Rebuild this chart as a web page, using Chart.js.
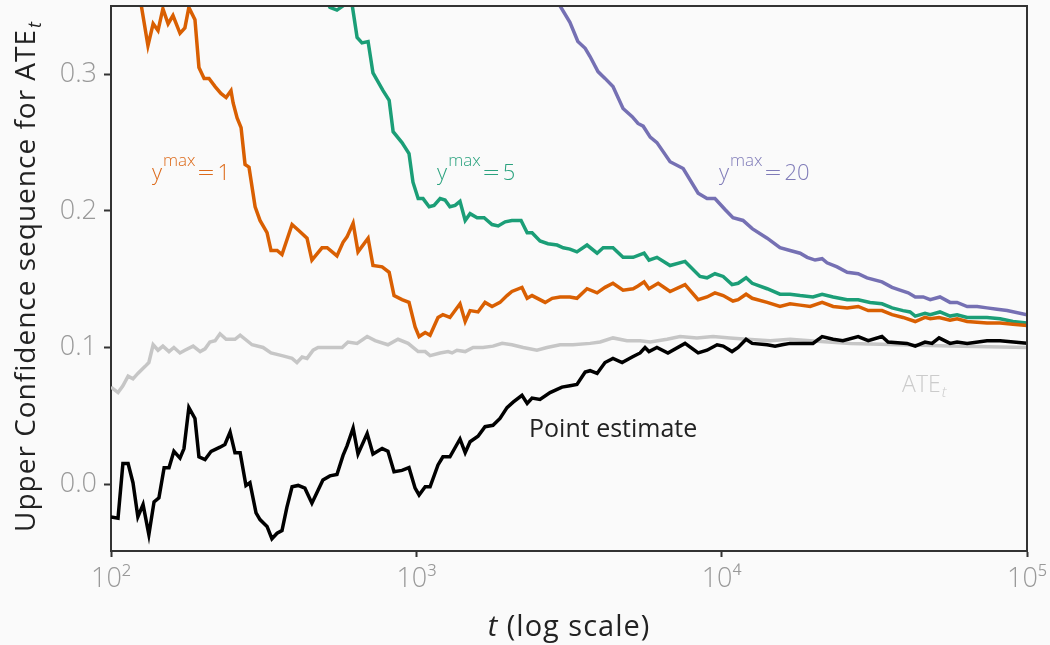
<!DOCTYPE html>
<html>
<head>
<meta charset="utf-8">
<script src="https://cdn.jsdelivr.net/npm/chart.js@4.4.1/dist/chart.umd.min.js"></script>
<style>
html,body{margin:0;padding:0;background:#fafafa;}
#wrap{width:1050px;height:645px;position:relative;}
canvas{display:block;}
</style>
</head>
<body>
<div id="wrap"><canvas id="c" width="1050" height="645"></canvas></div>
<script>
// ---- Data (x given as log10(t)) ----
const orangeLogT = [2.000,2.049,2.092,2.121,2.138,2.154,2.170,2.187,2.203,2.226,2.242,2.255,2.275,2.288,2.305,2.321,2.341,2.360,2.377,2.393,2.400,2.413,2.426,2.439,2.452,2.472,2.488,2.511,2.524,2.544,2.560,2.593,2.613,2.642,2.658,2.691,2.708,2.740,2.760,2.773,2.793,2.809,2.842,2.858,2.888,2.911,2.927,2.953,2.976,2.996,3.009,3.029,3.045,3.071,3.087,3.110,3.143,3.160,3.176,3.202,3.225,3.248,3.274,3.297,3.313,3.346,3.363,3.379,3.422,3.445,3.471,3.503,3.526,3.559,3.592,3.618,3.644,3.677,3.710,3.726,3.746,3.762,3.792,3.831,3.880,3.923,3.952,3.978,4.005,4.037,4.054,4.080,4.100,4.149,4.191,4.224,4.257,4.290,4.329,4.365,4.411,4.447,4.480,4.525,4.558,4.594,4.634,4.666,4.683,4.712,4.748,4.771,4.804,4.869,4.912,4.954,5.000];
const orangeVal = [0.45,0.39,0.36,0.321,0.337,0.332,0.348,0.337,0.343,0.330,0.334,0.349,0.340,0.305,0.297,0.297,0.291,0.286,0.283,0.288,0.279,0.268,0.261,0.234,0.232,0.203,0.193,0.184,0.171,0.171,0.168,0.190,0.186,0.180,0.164,0.173,0.173,0.167,0.177,0.181,0.191,0.170,0.180,0.160,0.159,0.155,0.138,0.135,0.133,0.115,0.108,0.111,0.109,0.122,0.124,0.122,0.132,0.119,0.127,0.126,0.133,0.130,0.133,0.138,0.141,0.144,0.136,0.138,0.133,0.136,0.137,0.137,0.136,0.143,0.140,0.144,0.147,0.142,0.143,0.145,0.148,0.143,0.147,0.141,0.146,0.135,0.137,0.140,0.138,0.134,0.135,0.139,0.136,0.133,0.130,0.132,0.131,0.130,0.133,0.130,0.129,0.130,0.127,0.127,0.124,0.122,0.119,0.122,0.121,0.122,0.120,0.121,0.119,0.118,0.118,0.117,0.116];

const greenLogT = [2.000,2.300,2.600,2.717,2.740,2.766,2.789,2.806,2.822,2.842,2.858,2.891,2.911,2.924,2.953,2.976,2.989,3.006,3.022,3.042,3.058,3.078,3.094,3.110,3.127,3.143,3.160,3.176,3.199,3.222,3.248,3.268,3.291,3.313,3.343,3.363,3.379,3.405,3.431,3.461,3.481,3.503,3.526,3.559,3.592,3.612,3.644,3.677,3.710,3.746,3.762,3.788,3.831,3.880,3.929,3.952,3.978,4.005,4.034,4.054,4.080,4.100,4.149,4.191,4.224,4.257,4.299,4.329,4.365,4.411,4.447,4.486,4.525,4.558,4.594,4.617,4.634,4.666,4.683,4.715,4.748,4.771,4.804,4.869,4.912,4.954,5.000];
const greenVal = [0.75,0.52,0.40,0.349,0.347,0.351,0.352,0.327,0.323,0.324,0.301,0.288,0.281,0.258,0.250,0.242,0.221,0.209,0.209,0.203,0.204,0.209,0.208,0.203,0.204,0.207,0.193,0.198,0.195,0.195,0.190,0.189,0.192,0.193,0.193,0.184,0.184,0.178,0.176,0.175,0.173,0.172,0.170,0.175,0.169,0.173,0.173,0.166,0.166,0.169,0.164,0.166,0.160,0.163,0.152,0.151,0.154,0.152,0.146,0.147,0.151,0.147,0.143,0.139,0.139,0.138,0.137,0.139,0.137,0.135,0.135,0.133,0.132,0.129,0.127,0.126,0.123,0.125,0.124,0.126,0.123,0.124,0.122,0.122,0.121,0.119,0.118];

const purpleLogT = [2.000,2.300,2.600,2.900,3.100,3.300,3.420,3.471,3.503,3.529,3.553,3.569,3.595,3.618,3.644,3.677,3.707,3.726,3.743,3.766,3.788,3.831,3.874,3.923,3.952,3.978,4.011,4.037,4.070,4.100,4.149,4.191,4.224,4.257,4.280,4.306,4.329,4.345,4.378,4.411,4.447,4.476,4.525,4.558,4.584,4.611,4.634,4.660,4.683,4.715,4.748,4.771,4.804,4.837,4.869,4.902,4.935,5.000];
const purpleVal = [1.60,1.00,0.68,0.50,0.43,0.38,0.36,0.350,0.338,0.324,0.319,0.313,0.302,0.297,0.291,0.275,0.269,0.264,0.262,0.254,0.250,0.236,0.231,0.213,0.209,0.209,0.201,0.195,0.193,0.187,0.180,0.173,0.171,0.169,0.166,0.164,0.165,0.162,0.159,0.155,0.154,0.151,0.148,0.144,0.142,0.140,0.137,0.137,0.135,0.137,0.133,0.133,0.130,0.130,0.129,0.128,0.127,0.124];

const pointLogT = [2.000,2.023,2.039,2.056,2.072,2.088,2.105,2.124,2.141,2.157,2.174,2.190,2.206,2.226,2.239,2.255,2.275,2.288,2.308,2.328,2.357,2.373,2.390,2.406,2.423,2.442,2.455,2.475,2.488,2.511,2.527,2.544,2.560,2.576,2.593,2.613,2.635,2.658,2.675,2.694,2.717,2.740,2.760,2.773,2.793,2.809,2.839,2.858,2.888,2.907,2.927,2.953,2.976,2.996,3.009,3.029,3.045,3.071,3.087,3.110,3.143,3.160,3.176,3.202,3.225,3.251,3.274,3.297,3.317,3.346,3.363,3.379,3.405,3.438,3.477,3.503,3.526,3.553,3.569,3.592,3.618,3.644,3.674,3.707,3.733,3.749,3.762,3.788,3.824,3.880,3.923,3.952,3.985,4.005,4.034,4.054,4.080,4.100,4.149,4.175,4.198,4.224,4.257,4.299,4.329,4.365,4.397,4.447,4.480,4.525,4.545,4.607,4.634,4.666,4.689,4.712,4.748,4.771,4.804,4.869,4.912,5.000];
const pointVal = [-0.024,-0.025,0.015,0.015,0.001,-0.024,-0.015,-0.037,-0.013,-0.010,0.012,0.012,0.024,0.019,0.026,0.056,0.048,0.020,0.018,0.024,0.027,0.029,0.038,0.023,0.023,-0.001,0.001,-0.021,-0.026,-0.031,-0.040,-0.036,-0.034,-0.017,-0.002,-0.001,-0.003,-0.014,-0.006,0.003,0.006,0.007,0.021,0.028,0.041,0.022,0.037,0.022,0.026,0.024,0.009,0.010,0.012,-0.003,-0.008,-0.002,-0.002,0.014,0.020,0.020,0.033,0.023,0.031,0.035,0.042,0.043,0.048,0.056,0.060,0.065,0.059,0.063,0.062,0.067,0.071,0.072,0.073,0.082,0.083,0.081,0.089,0.092,0.089,0.093,0.096,0.100,0.097,0.100,0.096,0.103,0.096,0.098,0.102,0.101,0.097,0.100,0.106,0.103,0.102,0.101,0.102,0.103,0.103,0.103,0.108,0.106,0.105,0.108,0.105,0.108,0.104,0.103,0.101,0.104,0.103,0.107,0.103,0.104,0.103,0.105,0.105,0.103];

const ateLogT = [2.000,2.023,2.039,2.056,2.072,2.088,2.111,2.124,2.138,2.154,2.170,2.190,2.206,2.226,2.242,2.269,2.292,2.308,2.324,2.341,2.357,2.377,2.406,2.423,2.462,2.498,2.524,2.560,2.593,2.609,2.626,2.642,2.662,2.678,2.717,2.757,2.776,2.806,2.839,2.865,2.907,2.940,2.973,3.006,3.029,3.045,3.078,3.104,3.117,3.133,3.160,3.186,3.218,3.251,3.281,3.313,3.350,3.395,3.428,3.471,3.513,3.569,3.602,3.644,3.690,3.733,3.766,3.821,3.864,3.919,3.972,4.027,4.083,4.159,4.224,4.290,4.421,4.584,4.748,5.000];
const ateVal = [0.071,0.067,0.072,0.079,0.077,0.081,0.086,0.089,0.102,0.098,0.101,0.097,0.100,0.096,0.098,0.101,0.097,0.099,0.104,0.105,0.110,0.106,0.106,0.109,0.102,0.100,0.096,0.094,0.092,0.089,0.093,0.092,0.098,0.100,0.100,0.100,0.104,0.103,0.108,0.105,0.102,0.106,0.103,0.097,0.097,0.094,0.096,0.097,0.096,0.098,0.097,0.100,0.100,0.101,0.103,0.102,0.100,0.098,0.100,0.102,0.102,0.103,0.104,0.107,0.105,0.105,0.104,0.106,0.108,0.107,0.108,0.107,0.106,0.105,0.106,0.105,0.103,0.102,0.101,0.100];

const xTickValues = [100, 1000, 10000, 100000];
const xTickLabels = ['10\u00B2', '10\u00B3', '10\u2074', '10\u2075'];
const yTickValues = [0, 0.1, 0.2, 0.3];
const yTickLabels = ['0.0', '0.1', '0.2', '0.3'];

const seriesNames = ['Point estimate', 'ATE', 'y^max = 1', 'y^max = 5', 'y^max = 20'];
const yMaxValues = ['1', '5', '20'];

// ---- Styles ----
const COL = {orange:'#D95F02', green:'#1B9E77', purple:'#7570B3', black:'#000000', gray:'#C6C6C6', axis:'#333333', tick:'#999999', text:'#222222'};
const FONT = '"Open Sans", "Noto Sans", sans-serif';

const toPts = (lt, v) => lt.map((e, i) => ({x: Math.pow(10, e), y: v[i]}));

// label anchors in data space (log10 t, value)
const labelAnchors = {
  y1: [2.134, 0.2225], y5: [3.068, 0.2225], y20: [3.991, 0.2225],
  point: [3.369, 0.0344], ate: [4.591, 0.0673]
};

function drawYmax(ctx, px, py, val, color) {
  ctx.fillStyle = color;
  ctx.textAlign = 'left';
  ctx.textBaseline = 'alphabetic';
  ctx.font = '300 22px ' + FONT;
  ctx.fillText('y', px, py);
  let x = px + ctx.measureText('y').width + 1;
  ctx.font = '300 17px ' + FONT;
  ctx.fillText('max', x, py - 14);
  x += ctx.measureText('max').width + 2;
  ctx.font = '300 22px ' + FONT;
  ctx.save();
  ctx.translate(x, py);
  ctx.scale(1.35, 1);
  ctx.fillText('=', 0, 0);
  ctx.restore();
  x += ctx.measureText('=').width * 1.35 + 3;
  ctx.fillText(val, x, py);
}

const decor = {
  id: 'decor',
  beforeDraw(chart) {
    const c = chart.ctx;
    c.save();
    c.fillStyle = '#fafafa';
    c.fillRect(0, 0, chart.width, chart.height);
    c.restore();
  },
  afterDraw(chart) {
    const ctx = chart.ctx, a = chart.chartArea, xs = chart.scales.x, ys = chart.scales.y;
    const P = (anc) => [xs.getPixelForValue(Math.pow(10, anc[0])), ys.getPixelForValue(anc[1])];
    ctx.save();
    // frame top + right
    ctx.strokeStyle = COL.axis;
    ctx.lineWidth = 2;
    ctx.beginPath();
    ctx.moveTo(a.left, a.top);
    ctx.lineTo(a.right, a.top);
    ctx.lineTo(a.right, a.bottom + 1);
    ctx.stroke();

    // y^max labels
    let p = P(labelAnchors.y1); drawYmax(ctx, p[0], p[1], yMaxValues[0], '#DC6A1A');
    p = P(labelAnchors.y5); drawYmax(ctx, p[0], p[1], yMaxValues[1], '#2AA27E');
    p = P(labelAnchors.y20); drawYmax(ctx, p[0], p[1], yMaxValues[2], '#7F7BB8');

    // Point estimate
    p = P(labelAnchors.point);
    ctx.fillStyle = COL.text;
    ctx.font = '400 25px ' + FONT;
    ctx.textAlign = 'left';
    ctx.textBaseline = 'alphabetic';
    ctx.fillText(seriesNames[0], p[0], p[1]);

    // ATE_t
    p = P(labelAnchors.ate);
    ctx.fillStyle = '#CBCBCB';
    ctx.font = '300 23px ' + FONT;
    ctx.fillText('ATE', p[0], p[1]);
    let w = ctx.measureText('ATE').width;
    ctx.font = 'italic 300 15px ' + FONT;
    ctx.fillText('t', p[0] + w + 1, p[1] + 5);

    // y axis title
    ctx.fillStyle = COL.text;
    ctx.save();
    ctx.translate(35, (a.top + a.bottom) / 2 - 2);
    ctx.rotate(-Math.PI / 2);
    ctx.font = '400 28px ' + FONT;
    if ('letterSpacing' in ctx) ctx.letterSpacing = '1px';
    const main = 'Upper Confidence sequence for ATE';
    const wm = ctx.measureText(main).width;
    ctx.font = 'italic 400 18px ' + FONT;
    const wt = ctx.measureText('t').width;
    const start = -(wm + wt + 1) / 2;
    ctx.font = '400 28px ' + FONT;
    ctx.textAlign = 'left';
    ctx.fillText(main, start, 0);
    ctx.font = 'italic 400 18px ' + FONT;
    ctx.fillText('t', start + wm + 1, 6);
    ctx.restore();

    // x axis title
    ctx.save();
    if ('letterSpacing' in ctx) ctx.letterSpacing = '1px';
    ctx.fillStyle = COL.text;
    ctx.font = 'italic 400 29px ' + FONT;
    const w1 = ctx.measureText('t').width;
    ctx.font = '400 29px ' + FONT;
    const rest = ' (log scale)';
    const w2 = ctx.measureText(rest).width;
    const cx = (a.left + a.right) / 2;
    const sx = cx - (w1 + w2) / 2;
    ctx.textAlign = 'left';
    ctx.textBaseline = 'alphabetic';
    ctx.font = 'italic 400 29px ' + FONT;
    ctx.fillText('t', sx, 636);
    ctx.font = '400 29px ' + FONT;
    ctx.fillText(rest, sx + w1, 636);
    ctx.restore();

    ctx.restore();
  }
};

function build() {
  const ds = (label, lt, v, color, w) => ({
    label, data: toPts(lt, v), borderColor: color, backgroundColor: color,
    borderWidth: w, pointRadius: 0, pointHoverRadius: 0, tension: 0, fill: false,
    clip: 0, borderJoinStyle: 'miter', borderCapStyle: 'butt'
  });
  new Chart(document.getElementById('c'), {
    type: 'line',
    data: {
      datasets: [
        ds(seriesNames[0], pointLogT, pointVal, COL.black, 3.5),
        ds(seriesNames[1], ateLogT, ateVal, COL.gray, 3.5),
        ds(seriesNames[2], orangeLogT, orangeVal, COL.orange, 3.5),
        ds(seriesNames[3], greenLogT, greenVal, COL.green, 3.5),
        ds(seriesNames[4], purpleLogT, purpleVal, COL.purple, 3.5)
      ]
    },
    options: {
      responsive: false,
      animation: false,
      devicePixelRatio: 1,
      layout: {padding: {left: 0, top: 6, right: 23, bottom: 0}},
      plugins: {legend: {display: false}, tooltip: {enabled: false}},
      scales: {
        x: {
          type: 'logarithmic', position: 'bottom', min: 100, max: 100000,
          afterBuildTicks: s => { s.ticks = xTickValues.map(v => ({value: v, major: true})); },
          afterFit: s => { s.height = 94; s.paddingLeft = 0; s.paddingRight = 0; s.paddingTop = 0; s.paddingBottom = 0; },
          ticks: {
            autoSkip: false, maxRotation: 0, minRotation: 0, padding: 6,
            color: COL.tick, font: {family: FONT, size: 27, weight: '300'},
            callback: (v, i) => xTickLabels[i]
          },
          grid: {drawOnChartArea: false, drawTicks: true, tickLength: 6, tickWidth: 2, tickColor: COL.axis},
          border: {display: true, color: COL.axis, width: 2}
        },
        y: {
          type: 'linear', min: -0.049, max: 0.35,
          afterBuildTicks: s => { s.ticks = yTickValues.map(v => ({value: v})); },
          afterFit: s => { s.width = 111; s.paddingTop = 0; s.paddingBottom = 0; s.paddingLeft = 0; s.paddingRight = 0; },
          ticks: {
            padding: 7, color: COL.tick, font: {family: FONT, size: 27, weight: '300'},
            callback: (v, i) => yTickLabels[i]
          },
          grid: {drawOnChartArea: false, drawTicks: true, tickLength: 7, tickWidth: 2, tickColor: COL.axis},
          border: {display: true, color: COL.axis, width: 2}
        }
      }
    },
    plugins: [decor]
  });
}

const fontsReady = (document.fonts && document.fonts.load)
  ? Promise.all([
      document.fonts.load('300 27px "Open Sans"'),
      document.fonts.load('400 28px "Open Sans"'),
      document.fonts.load('italic 400 28px "Open Sans"')
    ]).catch(() => null)
  : Promise.resolve();
fontsReady.then(build, build);
</script>
</body>
</html>
